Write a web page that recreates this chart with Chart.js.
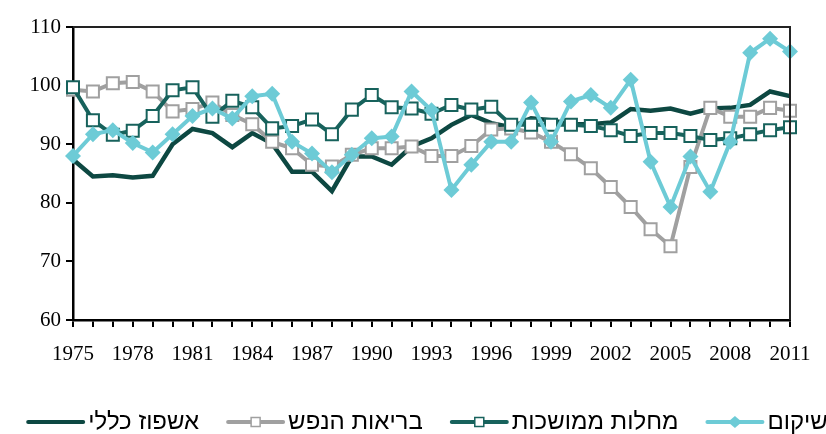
<!DOCTYPE html>
<html lang="he">
<head>
  <meta charset="UTF-8">
  <title>מדדים לפי סוג אשפוז 1975-2011</title>
  <script src="https://cdn.jsdelivr.net/npm/chart.js"></script>
  <style>
    html, body { margin: 0; padding: 0; background: #fff; }
    canvas { display: block; }
  </style>
</head>
<body>
  <canvas id="chart" width="826" height="434"></canvas>

  <script>
    // נתונים
    const years = ['1975','1976','1977','1978','1979','1980','1981','1982','1983','1984','1985','1986',
                   '1987','1988','1989','1990','1991','1992','1993','1994','1995','1996','1997','1998',
                   '1999','2000','2001','2002','2003','2004','2005','2006','2007','2008','2009','2010','2011'];

    const general = [87.4, 84.5, 84.7, 84.3, 84.6, 90.0, 92.6, 91.9, 89.5, 91.9, 90.1, 85.3,
                     85.3, 82.0, 87.9, 87.9, 86.5, 89.6, 91.0, 93.3, 95.0, 93.6, 92.9, 94.4,
                     94.1, 93.4, 93.4, 93.7, 96.0, 95.7, 96.1, 95.2, 96.1, 96.2, 96.7, 99.0, 98.2];

    const mental = [99.3, 99.0, 100.4, 100.6, 99.0, 95.6, 96.0, 97.1, 95.0, 93.4, 90.4, 89.3,
                    86.5, 86.2, 88.2, 89.3, 89.3, 89.6, 88.0, 88.0, 89.7, 92.5, 92.7, 92.0,
                    90.4, 88.3, 85.9, 82.7, 79.3, 75.5, 72.6, 86.1, 96.2, 94.7, 94.7, 96.2, 95.7];

    const chronic = [99.7, 94.1, 91.6, 92.3, 94.8, 99.2, 99.7, 94.7, 97.4, 96.3, 92.7, 93.1,
                     94.2, 91.7, 95.9, 98.4, 96.3, 96.1, 95.2, 96.7, 95.9, 96.4, 93.3, 93.3,
                     93.3, 93.3, 93.1, 92.4, 91.4, 91.9, 91.9, 91.4, 90.7, 91.0, 91.7, 92.4, 92.9];

    const rehab = [88.0, 91.7, 92.4, 90.2, 88.6, 91.7, 94.8, 96.1, 94.4, 98.2, 98.6, 90.4,
                   88.4, 85.2, 88.2, 91.0, 91.3, 99.0, 95.8, 82.2, 86.5, 90.4, 90.4, 97.1,
                   90.4, 97.3, 98.4, 96.2, 101.0, 87.0, 79.3, 87.9, 81.9, 90.4, 105.6, 108.0, 105.8];

    const names = ['שיקום', 'מחלות ממושכות', 'בריאות הנפש', 'אשפוז כללי'];

    const cDark = '#0d4842';
    const cTeal = '#17625c';
    const cGray = '#a0a0a0';
    const cCyan = '#6dcbd6';

    const serif = "'Liberation Serif', 'Times New Roman', serif";
    const sans = "'Liberation Sans', Arial, sans-serif";

    // מקרא: קו + סמן + טקסט, משמאל לימין
    const legendBox = {
      id: 'legendBox',
      afterDraw(chart) {
        const ctx = chart.ctx;
        const y = 422, lineLen = 55, gapText = 5, gapItem = 29;
        const order = [3, 2, 1, 0];
        ctx.save();
        ctx.font = '24px ' + sans;
        ctx.textBaseline = 'middle';
        ctx.textAlign = 'left';
        let total = 0;
        order.forEach((i, k) => {
          total += lineLen + gapText + ctx.measureText(chart.data.datasets[i].label).width;
          if (k > 0) total += gapItem;
        });
        let x = 428 - total / 2;
        order.forEach(i => {
          const ds = chart.data.datasets[i];
          ctx.strokeStyle = ds.borderColor;
          ctx.lineWidth = 4;
          ctx.lineCap = 'round';
          ctx.beginPath(); ctx.moveTo(x, y); ctx.lineTo(x + lineLen, y); ctx.stroke();
          const cx = x + lineLen / 2;
          if (ds.pointStyle === 'rect') {
            ctx.fillStyle = '#fff'; ctx.lineWidth = 1.5;
            ctx.fillRect(cx - 4.5, y - 4.5, 9, 9); ctx.strokeRect(cx - 4.5, y - 4.5, 9, 9);
          } else if (ds.pointStyle === 'rectRot') {
            ctx.fillStyle = ds.borderColor;
            ctx.beginPath(); ctx.moveTo(cx, y - 6); ctx.lineTo(cx + 7, y); ctx.lineTo(cx, y + 6); ctx.lineTo(cx - 7, y);
            ctx.closePath(); ctx.fill();
          }
          x += lineLen + gapText;
          ctx.fillStyle = '#000';
          ctx.fillText(ds.label, x, y);
          x += ctx.measureText(ds.label).width + gapItem;
        });
        ctx.restore();
      }
    };

    // מסגרת עליונה וימנית
    const frame = {
      id: 'frame',
      afterDraw(chart) {
        const a = chart.chartArea, ctx = chart.ctx;
        ctx.save();
        ctx.lineWidth = 2;
        ctx.strokeStyle = '#222';
        ctx.beginPath();
        ctx.moveTo(a.left, a.top); ctx.lineTo(a.right, a.top); ctx.lineTo(a.right, a.bottom);
        ctx.stroke();
        ctx.restore();
      }
    };

    const ctx = document.getElementById('chart').getContext('2d');
    new Chart(ctx, {
      type: 'line',
      data: {
        labels: years,
        datasets: [
          { label: names[0], data: rehab, borderColor: cCyan, backgroundColor: cCyan, borderWidth: 4,
            pointStyle: 'rectRot', pointRadius: 8, pointBorderWidth: 0, pointBackgroundColor: cCyan, tension: 0 },
          { label: names[1], data: chronic, borderColor: cTeal, backgroundColor: '#fff', borderWidth: 4,
            pointStyle: 'rect', pointRadius: 8.5, pointBorderWidth: 2, pointBorderColor: cTeal, pointBackgroundColor: '#fff', tension: 0 },
          { label: names[2], data: mental, borderColor: cGray, backgroundColor: '#fff', borderWidth: 4,
            pointStyle: 'rect', pointRadius: 8.5, pointBorderWidth: 2, pointBorderColor: cGray, pointBackgroundColor: '#fff', tension: 0 },
          { label: names[3], data: general, borderColor: cDark, backgroundColor: cDark, borderWidth: 4.5,
            pointStyle: false, pointRadius: 0, tension: 0 }
        ]
      },
      options: {
        responsive: false,
        animation: false,
        events: [],
        layout: { padding: { left: 0, right: 36, top: 27, bottom: 0 } },
        plugins: {
          tooltip: { enabled: false },
          legend: { display: false }
        },
        scales: {
          x: {
            afterFit(scale) { scale.height = 114; },
            border: { display: true, color: '#000', width: 2.5 },
            grid: { display: true, drawOnChartArea: false, drawTicks: true, tickLength: 7, color: '#000', lineWidth: 2 },
            ticks: {
              autoSkip: false, maxRotation: 0, padding: 15, color: '#000',
              font: { family: serif, size: 21 },
              callback: (v, i) => (i % 3 === 0 ? years[i] : '')
            }
          },
          y: {
            min: 60, max: 110,
            afterFit(scale) { scale.width = 73; },
            border: { display: true, color: '#000', width: 2.5 },
            grid: { display: true, drawOnChartArea: false, drawTicks: true, tickLength: 7, color: '#000', lineWidth: 2 },
            ticks: { stepSize: 10, padding: 5, color: '#000', font: { family: serif, size: 21 } }
          }
        }
      },
      plugins: [frame, legendBox]
    });
  </script>
</body>
</html>
